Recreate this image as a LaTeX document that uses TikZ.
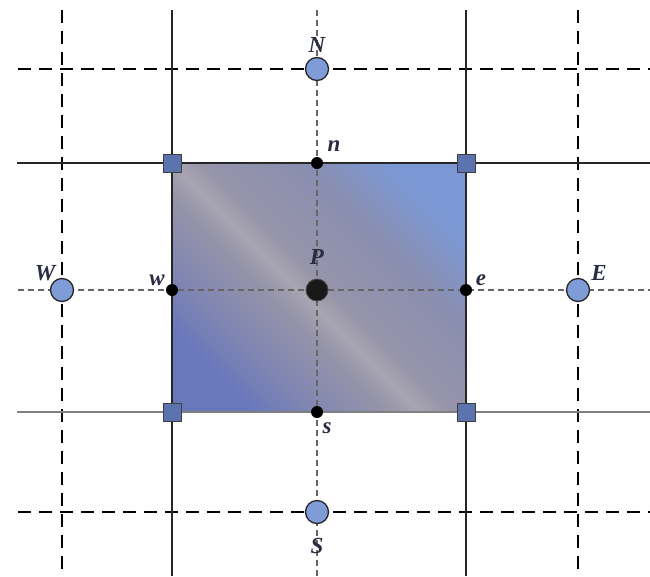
\documentclass[tikz,border=0pt]{standalone}
\usepackage{fontspec}
\setmainfont{Liberation Serif}
\definecolor{nodeblue}{HTML}{7F9CD8}
\definecolor{cornerblue}{HTML}{5B74B0}
\definecolor{labcol}{HTML}{2A2D42}
\pgfdeclarehorizontalshading{cvshade}{100bp}{%
  color(0bp)=(rgb,255:red,104;green,120;blue,186);
  color(25bp)=(rgb,255:red,104;green,120;blue,186);
  color(33bp)=(rgb,255:red,128;green,134;blue,178);
  color(43bp)=(rgb,255:red,150;green,148;blue,170);
  color(47bp)=(rgb,255:red,168;green,164;blue,176);
  color(51bp)=(rgb,255:red,150;green,148;blue,170);
  color(64bp)=(rgb,255:red,138;green,142;blue,176);
  color(75bp)=(rgb,255:red,124;green,152;blue,212);
  color(100bp)=(rgb,255:red,124;green,152;blue,212)}
\begin{document}
\begin{tikzpicture}[x=1pt,y=-1pt,
  thickdash/.style={line width=2.8pt, dash pattern=on 13pt off 8pt, black},
  thindash/.style={line width=1.2pt, dash pattern=on 6pt off 4pt, black!60},
  gridline/.style={line width=1.4pt, black!85},
  gridlight/.style={line width=1.4pt, black!50},
  bignode/.style={circle, draw=black!85, line width=1.3pt, fill=nodeblue, minimum size=23pt, inner sep=0pt},
  dotnode/.style={circle, fill=black, minimum size=12pt, inner sep=0pt},
  pnode/.style={circle, draw=black!70, line width=0.8pt, fill=black!90, minimum size=22pt, inner sep=0pt},
  cornernode/.style={rectangle, draw=black!75, line width=1pt, fill=cornerblue, minimum size=18pt, inner sep=0pt},
  lab/.style={font=\fontsize{23}{23}\selectfont\bfseries\itshape, text=labcol, inner sep=0pt}]
\useasboundingbox (0,0) rectangle (650,576);
% control volume
\path[shading=cvshade, shading angle=45] (172,163) rectangle (466,412);
% grid lines
\draw[thickdash] (62,10) -- (62,576);
\draw[thickdash] (578,10) -- (578,576);
\draw[thickdash] (18,69) -- (650,69);
\draw[thickdash] (18,512) -- (650,512);
\draw[gridline] (172,10) -- (172,576);
\draw[gridline] (466,10) -- (466,576);
\draw[gridline] (17,163) -- (650,163);
\draw[gridlight] (17,412) -- (650,412);
\draw[thindash] (317,10) -- (317,576);
\draw[thindash] (18,290) -- (650,290);
% nodes
\node[bignode] (N) at (317,69) {};
\node[bignode] (S) at (317,512) {};
\node[bignode] (W) at (62,290) {};
\node[bignode] (E) at (578,290) {};
\node[pnode] (P) at (317,290) {};
\node[dotnode] (n) at (317,163) {};
\node[dotnode] (s) at (317,412) {};
\node[dotnode] (w) at (172,290) {};
\node[dotnode] (e) at (466,290) {};
\node[cornernode] (c1) at (172,163) {};
\node[cornernode] (c2) at (466,163) {};
\node[cornernode] (c3) at (172,412) {};
\node[cornernode] (c4) at (466,412) {};
% labels
\node[lab] (lN) at (317,45) {N};
\node[lab] (lS) at (317,546) {S};
\node[lab] (lW) at (45,273) {W};
\node[lab] (lE) at (599,273) {E};
\node[lab] (lP) at (317,257) {P};
\node[lab] (ln) at (334,146) {n};
\node[lab] (ls) at (327,428) {s};
\node[lab] (lw) at (157,280) {w};
\node[lab] (le) at (481,280) {e};
\end{tikzpicture}
\end{document}
